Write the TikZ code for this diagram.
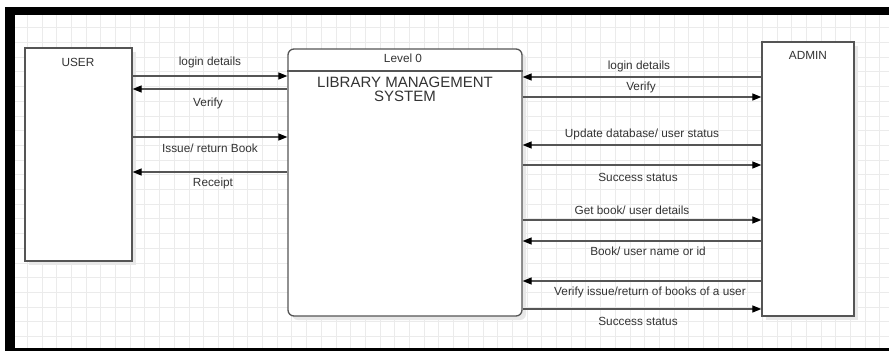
\documentclass[tikz,border=0pt]{standalone}
\usepackage{fontspec}
\setmainfont{Liberation Sans}
\usetikzlibrary{arrows.meta,shadows}
\definecolor{edge}{HTML}{555555}
\definecolor{txt}{HTML}{333333}
\definecolor{gridc}{HTML}{EBEBEB}
\tikzset{
  gridline/.style={draw=gridc, line width=0.8pt},
  entity/.style={draw=edge, line width=1.3pt, fill=white, rectangle, inner sep=0pt,
    drop shadow={shadow xshift=4pt, shadow yshift=-4pt, fill=black!9, opacity=1}},
  process/.style={entity, rounded corners=6pt},
  flow/.style={draw=edge, line width=1.2pt, -{Triangle[length=9pt,width=7pt,color=black]}},
  lbl/.style={text=txt, font=\fontsize{11.8}{13}\selectfont, inner sep=0pt},
  frame/.style={fill=black, draw=none}
}
\begin{document}
\begin{tikzpicture}[x=1pt, y=-1pt]
\useasboundingbox (0,0) rectangle (889,351);
\fill[white] (0,0) rectangle (889,351);
% grid
\foreach \gx in {12.5,27.2,...,889} \draw[gridline] (\gx,15) -- (\gx,351);
\foreach \gy in {13,27.7,...,351} \draw[gridline] (15,\gy) -- (889,\gy);
% frame
\fill[frame] (5,7) rectangle (889,15);
\fill[frame] (5,7) rectangle (15,351);
\fill[frame] (5,348) rectangle (889,351);

% boxes
\node[entity, minimum width=107pt, minimum height=213pt] (user) at (78.5,154.5) {};
\node[process, minimum width=234pt, minimum height=267pt] (lms) at (405,182.5) {};
\node[entity, minimum width=92pt, minimum height=274pt] (admin) at (808,179) {};
\draw[draw=edge, line width=1.3pt] (lms.west |- 0,71) coordinate (hl) -- (lms.east |- 0,71) coordinate (hr);

\node[lbl] (usert) at (78,62) {USER};
\node[lbl] (admint) at (808,55) {ADMIN};
\node[lbl] (level) at (403,58) {Level 0};
\node[text=txt, font=\fontsize{15}{14}\selectfont, align=center, inner sep=0pt, anchor=north] (lmst) at (405,77) {LIBRARY MANAGEMENT\\SYSTEM};

% user side flows
\draw[flow] (user.east |- 0,76) -- (lms.west |- 0,76);
\node[lbl] (l1) at (210,62) {login details};
\draw[flow] (lms.west |- 0,89) -- (user.east |- 0,89);
\node[lbl] (l2) at (208,103) {Verify};
\draw[flow] (user.east |- 0,137) -- (lms.west |- 0,137);
\node[lbl] (l3) at (210,148) {Issue/ return Book};
\draw[flow] (lms.west |- 0,172) -- (user.east |- 0,172);
\node[lbl] (l4) at (213,183) {Receipt};

% admin side flows
\draw[flow] (admin.west |- 0,77) -- (lms.east |- 0,77);
\node[lbl] (r1) at (639,66) {login details};
\draw[flow] (lms.east |- 0,97) -- (admin.west |- 0,97);
\node[lbl] (r2) at (641,87) {Verify};
\draw[flow] (admin.west |- 0,145) -- (lms.east |- 0,145);
\node[lbl] (r3) at (642,134) {Update database/ user status};
\draw[flow] (lms.east |- 0,165) -- (admin.west |- 0,165);
\node[lbl] (r4) at (638,177) {Success status};
\draw[flow] (lms.east |- 0,220) -- (admin.west |- 0,220);
\node[lbl] (r5) at (632,210) {Get book/ user details};
\draw[flow] (admin.west |- 0,241) -- (lms.east |- 0,241);
\node[lbl] (r6) at (648,251) {Book/ user name or id};
\draw[flow] (admin.west |- 0,281) -- (lms.east |- 0,281);
\node[lbl] (r7) at (650,292) {Verify issue/return of books of a user};
\draw[flow] (lms.east |- 0,309) -- (admin.west |- 0,309);
\node[lbl] (r8) at (638,321) {Success status};
\end{tikzpicture}
\end{document}
